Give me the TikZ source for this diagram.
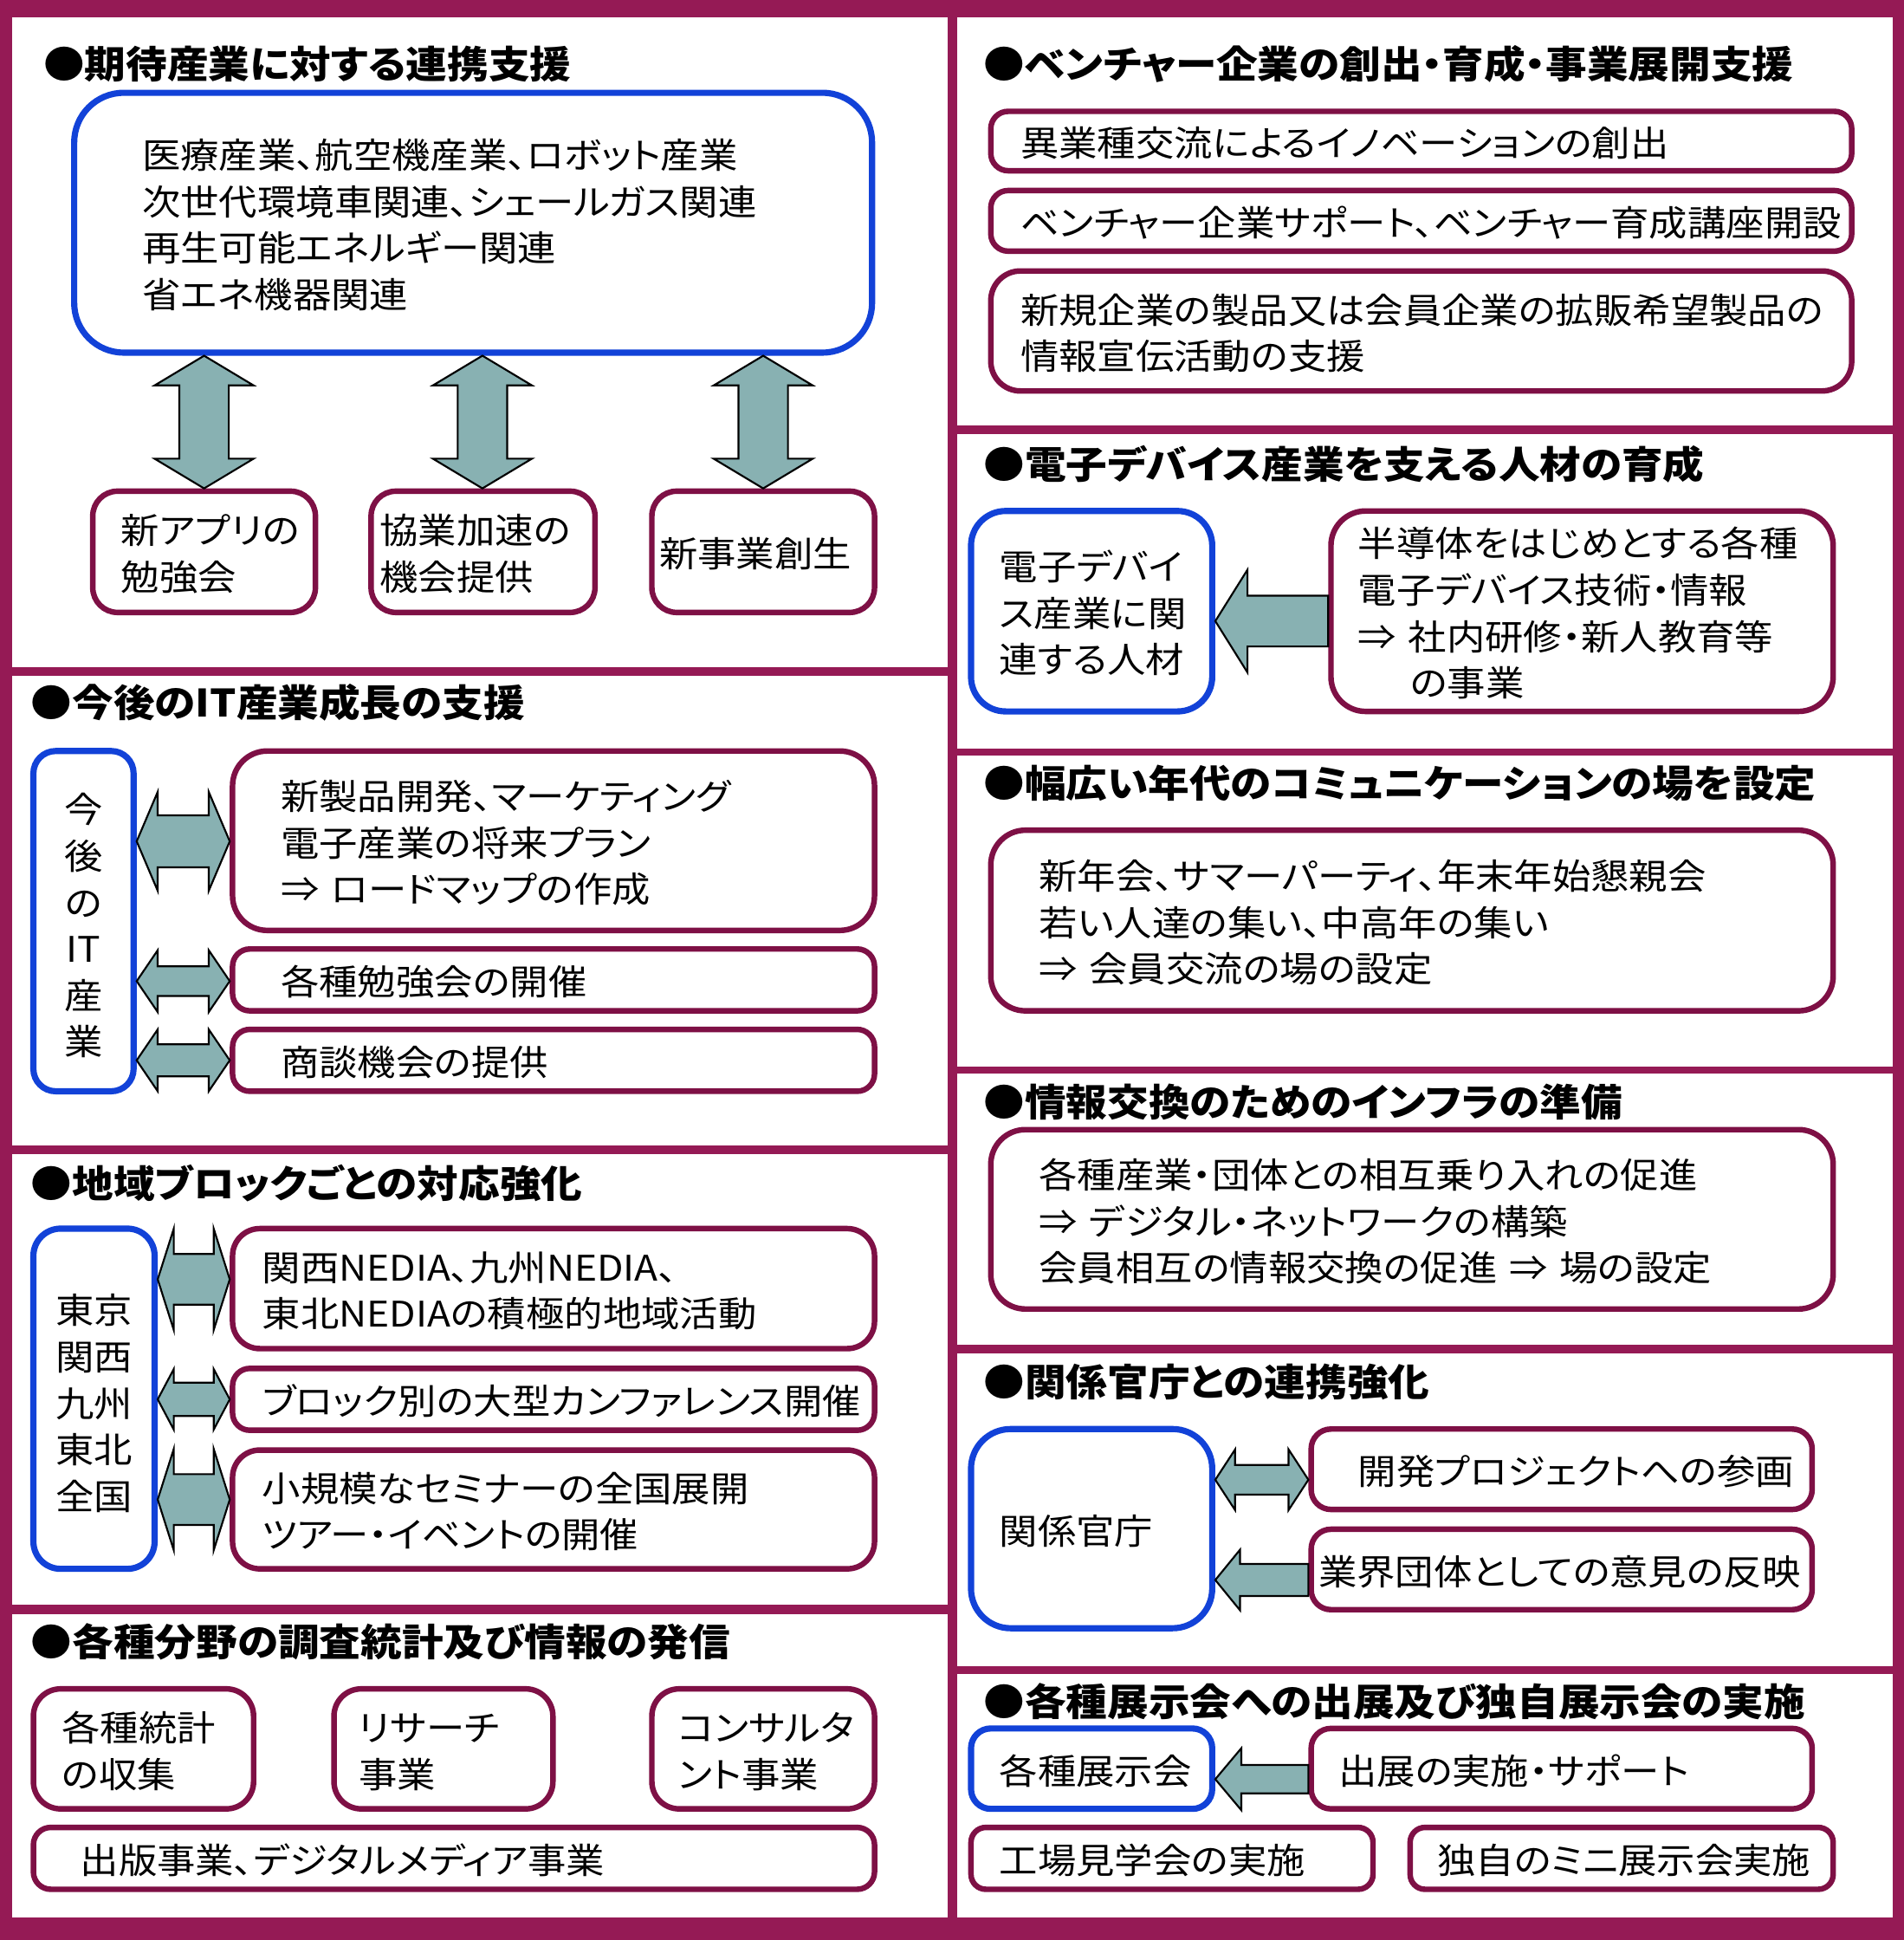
\documentclass[tikz,border=0pt]{standalone}
\usepackage{fontspec}
\setmainfont{Noto Sans CJK JP}[RawFeature=+palt, FakeStretch=1.09]
\usetikzlibrary{calc}
\definecolor{frame}{HTML}{951A55}
\definecolor{bord}{HTML}{7E1045}
\definecolor{blueb}{HTML}{1242D8}
\definecolor{arrowf}{HTML}{88B1B2}
\newcommand\bodyfont{\fontsize{28.5}{37.5}\selectfont}
\newcommand\headfont{\fontsize{30.6}{36}\selectfont\bfseries}
% box with left-aligned text block starting #6 pt from the left edge
\newcommand\mybox[8]{%
 \pgfmathsetmacro\bw{#4-#2}%
 \pgfmathsetmacro\bh{#5-#3}%
 \pgfmathsetmacro\bcx{(#2+#4)/2}%
 \pgfmathsetmacro\bcy{(#3+#5)/2}%
 \node[#7, align=left, minimum width=\bw pt, minimum height=\bh pt, text width=\bw pt] (#1) at (\bcx,\bcy) {\hspace*{#6pt}\raisebox{-5pt}[\height][\depth]{\begin{tabular}{@{}l@{}}#8\end{tabular}}};}
% box with centred text block
\newcommand\mycbox[7]{%
 \pgfmathsetmacro\bw{#4-#2}%
 \pgfmathsetmacro\bh{#5-#3}%
 \pgfmathsetmacro\bcx{(#2+#4)/2}%
 \pgfmathsetmacro\bcy{(#3+#5)/2}%
 \node[#6, align=center, minimum width=\bw pt, minimum height=\bh pt, text width=\bw pt] (#1) at (\bcx,\bcy) {\raisebox{-7pt}[\height][\depth]{\begin{tabular}{@{}c@{}}#7\end{tabular}}};}
\newcommand\dblH[6]{%
 \coordinate (aL) at (#1 |- 0,#3);
 \coordinate (aR) at (#2 |- 0,#3);
 \draw[barrow] (aL) -- ++(#6,-#4) -- ++(0,#4-#5) -- ($(aR)+(-#6,-#5)$) -- ++(0,#5-#4) -- (aR) -- ++(-#6,#4) -- ++(0,#5-#4) -- ($(aL)+(#6,#5)$) -- ++(0,#4-#5) -- cycle;}
\newcommand\dblV[6]{%
 \coordinate (aT) at (#3,0 |- #1);
 \coordinate (aB) at (#3,0 |- #2);
 \draw[barrow] (aT) -- ++(#4,#6) -- ++(#5-#4,0) -- ($(aB)+(#5,-#6)$) -- ++(#4-#5,0) -- (aB) -- ++(-#4,-#6) -- ++(#4-#5,0) -- ($(aT)+(-#5,#6)$) -- ++(#5-#4,0) -- cycle;}
\newcommand\lArr[6]{%
 \coordinate (aL) at (#1 |- 0,#3);
 \coordinate (aR) at (#2 |- 0,#3);
 \draw[barrow] (aL) -- ++(#6,-#4) -- ++(0,#4-#5) -- ($(aR)+(0,-#5)$) -- ($(aR)+(0,#5)$) -- ($(aL)+(#6,#5)$) -- ++(0,#4-#5) -- cycle;}
\tikzset{
 mbox/.style={draw=bord, line width=4.5pt, fill=white, inner sep=0pt, font=\bodyfont, rounded corners=16pt},
 bbox/.style={mbox, draw=blueb, line width=5pt},
 head/.style={anchor=west, inner sep=0pt, font=\headfont},
 barrow/.style={fill=arrowf, draw=black, line width=1.5pt, line join=miter}
}
\begin{document}
\begin{tikzpicture}[x=1pt, y=-1pt]
\useasboundingbox (0,0) rectangle (1539,1568);
% frame and section panels
\fill[frame] (0,0) rectangle (1539,1568);
\fill[white] (10,14) rectangle (766,539);
\fill[white] (10,546) rectangle (766,926);
\fill[white] (10,933) rectangle (766,1297);
\fill[white] (10,1305) rectangle (766,1550);
\fill[white] (774,14) rectangle (1530,344);
\fill[white] (774,351) rectangle (1530,605);
\fill[white] (774,611) rectangle (1530,862);
\fill[white] (774,868) rectangle (1530,1087);
\fill[white] (774,1094) rectangle (1530,1347);
\fill[white] (774,1353) rectangle (1530,1550);

% ---- L1
\node[head] (hL1) at (35,52) {●期待産業に対する連携支援};
\mybox{big}{60}{75}{705}{285}{55}{bbox, rounded corners=40pt}{医療産業、航空機産業、ロボット産業\\次世代環境車関連、シェールガス関連\\再生可能エネルギー関連\\省エネ機器関連}
\mybox{n1}{75}{397}{255}{495}{23}{mbox, rounded corners=20pt}{新アプリの\\勉強会}
\mybox{n2}{300}{397}{481}{495}{7}{mbox, rounded corners=20pt}{協業加速の\\機会提供}
\mybox{n3}{527}{397}{707}{495}{6}{mbox, rounded corners=20pt}{新事業創生}
\dblV{big.south}{n1.north}{165}{40}{20}{24}
\dblV{big.south}{n2.north}{390}{40}{20}{24}
\dblV{big.south}{n3.north}{617}{40}{20}{24}

% ---- L2
\node[head] (hL2) at (25,568) {●今後のIT産業成長の支援};
\mycbox{itb}{27}{607}{108}{882}{bbox, rounded corners=18pt}{今\\後\\の\\IT\\産\\業}
\mybox{i1}{188}{607}{707}{752}{39}{mbox, rounded corners=28pt}{新製品開発、マーケティング\\電子産業の将来プラン\\⇒ ロードマップの作成}
\mybox{i2}{188}{767}{707}{817}{39}{mbox, rounded corners=14pt}{各種勉強会の開催}
\mybox{i3}{188}{832}{707}{882}{39}{mbox, rounded corners=14pt}{商談機会の提供}
\dblH{itb.east}{i1.west}{680}{40}{21}{17}
\dblH{itb.east}{i2.west}{793}{25}{12}{17}
\dblH{itb.east}{i3.west}{857}{25}{13}{17}

% ---- L3
\node[head] (hL3) at (25,956) {●地域ブロックごとの対応強化};
\mycbox{reg}{27}{993}{125}{1268}{bbox, rounded corners=22pt}{東京\\関西\\九州\\東北\\全国}
\mybox{r1}{188}{993}{707}{1090}{24}{mbox, rounded corners=22pt}{関西NEDIA、九州NEDIA、\\東北NEDIAの積極的地域活動}
\mybox{r2}{188}{1106}{707}{1156}{24}{mbox, rounded corners=14pt}{ブロック別の大型カンファレンス開催}
\mybox{r3}{188}{1172}{707}{1268}{24}{mbox, rounded corners=22pt}{小規模なセミナーの全国展開\\ツアー・イベントの開催}
\dblH{reg.east}{r1.west}{1034}{41}{20.5}{13}
\dblH{reg.east}{r2.west}{1131}{24.5}{13.5}{13}
\dblH{reg.east}{r3.west}{1212}{41}{20.5}{13}

% ---- L4
\node[head] (hL4) at (25,1327) {●各種分野の調査統計及び情報の発信};
\mybox{s1}{27}{1365}{205}{1462}{23}{mbox, rounded corners=22pt}{各種統計\\の収集}
\mybox{s2}{270}{1365}{447}{1462}{20}{mbox, rounded corners=22pt}{リサーチ\\事業}
\mybox{s3}{527}{1365}{707}{1462}{21}{mbox, rounded corners=22pt}{コンサルタ\\ント事業}
\mybox{s4}{27}{1477}{707}{1527}{38}{mbox, rounded corners=14pt}{出版事業、デジタルメディア事業}

% ---- R1
\node[head] (hR1) at (795,52) {●ベンチャー企業の創出・育成・事業展開支援};
\mybox{e1}{801}{90}{1497}{138}{24}{mbox, rounded corners=14pt}{異業種交流によるイノベーションの創出}
\mybox{e2}{801}{154}{1497}{203}{24}{mbox, rounded corners=14pt}{ベンチャー企業サポート、ベンチャー育成講座開設}
\mybox{e3}{801}{219}{1497}{316}{24}{mbox, rounded corners=24pt}{新規企業の製品又は会員企業の拡販希望製品の\\情報宣伝活動の支援}

% ---- R2
\node[head] (hR2) at (795,375) {●電子デバイス産業を支える人材の育成};
\mybox{dev}{785}{413}{980}{575}{23}{bbox, rounded corners=28pt}{電子デバイ\\ス産業に関\\連する人材}
\mybox{sem}{1076}{413}{1482}{575}{22}{mbox, rounded corners=28pt}{半導体をはじめとする各種\\電子デバイス技術・情報\\⇒ 社内研修・新人教育等\\\hspace*{42pt}の事業}
\lArr{dev.east}{sem.west}{502}{41.5}{20.5}{26}

% ---- R3
\node[head] (hR3) at (795,633) {●幅広い年代のコミュニケーションの場を設定};
\mybox{com}{801}{671}{1482}{817}{39}{mbox, rounded corners=28pt}{新年会、サマーパーティ、年末年始懇親会\\若い人達の集い、中高年の集い\\⇒ 会員交流の場の設定}

% ---- R4
\node[head] (hR4) at (795,891) {●情報交換のためのインフラの準備};
\mybox{inf}{801}{913}{1482}{1058}{39}{mbox, rounded corners=28pt}{各種産業・団体との相互乗り入れの促進\\⇒ デジタル・ネットワークの構築\\会員相互の情報交換の促進 ⇒ 場の設定}

% ---- R5
\node[head] (hR5) at (795,1117) {●関係官庁との連携強化};
\mybox{gov}{785}{1155}{980}{1316}{23}{bbox, rounded corners=32pt}{関係官庁}
\mybox{g1}{1060}{1155}{1465}{1220}{38}{mbox, rounded corners=16pt}{開発プロジェクトへの参画}
\mybox{g2}{1060}{1236}{1465}{1301}{6}{mbox, rounded corners=16pt}{業界団体としての意見の反映}
\dblH{gov.east}{g1.west}{1196}{24.5}{12}{16}
\lArr{gov.east}{g2.west}{1277}{24.5}{13}{20}

% ---- R6
\node[head] (hR6) at (795,1375) {●各種展示会への出展及び独自展示会の実施};
\mybox{exh}{785}{1397}{980}{1462}{23}{bbox, rounded corners=16pt}{各種展示会}
\mybox{x1}{1060}{1397}{1465}{1462}{22}{mbox, rounded corners=16pt}{出展の実施・サポート}
\mybox{x2}{785}{1477}{1110}{1527}{23}{mbox, rounded corners=12pt}{工場見学会の実施}
\mybox{x3}{1140}{1477}{1482}{1527}{22}{mbox, rounded corners=12pt}{独自のミニ展示会実施}
\lArr{exh.east}{x1.west}{1438}{25}{11.5}{21}
\end{tikzpicture}
\end{document}
